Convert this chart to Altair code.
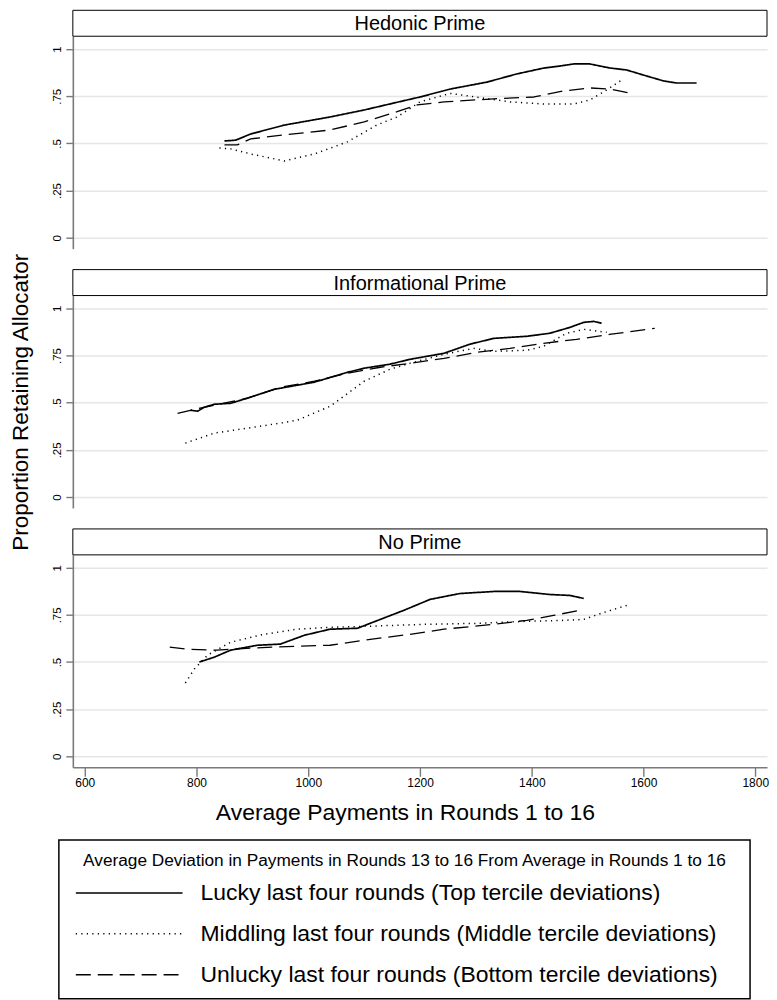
import altair as alt
import pandas as pd

# ---------------- data ----------------
panels = ["Hedonic Prime", "Informational Prime", "No Prime"]
series = [
    "Lucky last four rounds (Top tercile deviations)",
    "Middling last four rounds (Middle tercile deviations)",
    "Unlucky last four rounds (Bottom tercile deviations)",
]
legend_title = "Average Deviation in Payments in Rounds 13 to 16 From Average in Rounds 1 to 16"
x_title = "Average Payments in Rounds 1 to 16"
y_title = "Proportion Retaining Allocator"
x_ticks = [600, 800, 1000, 1200, 1400, 1600, 1800]
y_ticks = [0, 0.25, 0.5, 0.75, 1]

# Hedonic Prime
hed_lucky_x = [850, 870, 897, 957, 1039, 1100, 1159, 1200, 1254, 1320, 1373, 1421, 1450, 1475, 1504, 1539, 1570, 1600, 1636, 1659, 1695]
hed_lucky_y = [.513, .517, .55, .597, .64, .677, .718, .746, .788, .825, .868, .899, .91, .921, .921, .9, .889, .862, .831, .82, .82]
hed_mid_x = [841, 861, 897, 957, 1011, 1070, 1123, 1159, 1200, 1254, 1302, 1361, 1421, 1475, 1504, 1534, 1561]
hed_mid_y = [.476, .471, .444, .407, .444, .508, .598, .64, .72, .765, .745, .72, .709, .709, .73, .783, .836]
hed_unl_x = [850, 873, 897, 957, 1039, 1100, 1159, 1195, 1243, 1325, 1404, 1457, 1504, 1539, 1575]
hed_unl_y = [.492, .492, .524, .545, .571, .614, .668, .704, .72, .735, .746, .778, .794, .788, .767]

# Informational Prime
inf_lucky_x = [789, 802, 814, 832, 861, 891, 939, 1011, 1070, 1100, 1146, 1182, 1243, 1289, 1332, 1391, 1432, 1468, 1493, 1511, 1525]
inf_lucky_y = [.46, .455, .476, .492, .497, .524, .571, .609, .661, .683, .704, .73, .762, .81, .841, .852, .868, .899, .926, .931, .921]
inf_mid_x = [780, 832, 891, 950, 980, 1039, 1100, 1146, 1182, 1243, 1296, 1332, 1391, 1421, 1462, 1493, 1534]
inf_mid_y = [.286, .339, .365, .392, .407, .481, .614, .677, .709, .757, .788, .772, .778, .799, .868, .889, .873]
inf_unl_x = [766, 789, 832, 891, 950, 1011, 1070, 1129, 1182, 1243, 1302, 1361, 1421, 1480, 1539, 1620]
inf_unl_y = [.444, .46, .487, .524, .582, .614, .656, .688, .709, .735, .767, .788, .815, .836, .862, .894]

# No Prime
no_lucky_x = [805, 832, 861, 909, 950, 993, 1039, 1088, 1129, 1171, 1218, 1271, 1332, 1379, 1432, 1468, 1493]
no_lucky_y = [.5, .526, .563, .589, .595, .642, .674, .679, .726, .774, .832, .863, .874, .874, .858, .853, .837]
no_mid_x = [780, 796, 820, 861, 921, 980, 1039, 1100, 1159, 1212, 1302, 1391, 1457, 1493, 1529, 1570]
no_mid_y = [.389, .463, .537, .605, .647, .674, .684, .689, .695, .7, .705, .716, .721, .726, .763, .8]
no_unl_x = [752, 784, 837, 896, 980, 1039, 1100, 1182, 1243, 1332, 1391, 1439, 1486]
no_unl_y = [.579, .568, .563, .574, .584, .589, .616, .647, .674, .7, .721, .747, .774]

groups = [
    (panels[0], series[0], hed_lucky_x, hed_lucky_y),
    (panels[0], series[1], hed_mid_x, hed_mid_y),
    (panels[0], series[2], hed_unl_x, hed_unl_y),
    (panels[1], series[0], inf_lucky_x, inf_lucky_y),
    (panels[1], series[1], inf_mid_x, inf_mid_y),
    (panels[1], series[2], inf_unl_x, inf_unl_y),
    (panels[2], series[0], no_lucky_x, no_lucky_y),
    (panels[2], series[1], no_mid_x, no_mid_y),
    (panels[2], series[2], no_unl_x, no_unl_y),
]
rows = []
for p, s, xs, ys in groups:
    for i, (xv, yv) in enumerate(zip(xs, ys)):
        rows.append({"panel": p, "series": s, "x": xv, "y": yv, "i": i})
df = pd.DataFrame(rows)

# ---------------- styling ----------------
FONT = "Liberation Sans, Arial, Helvetica, sans-serif"
W, H, HDR = 696, 213, 26
AXIS_GRAY = "#7a7a7a"

x_scale = alt.Scale(domain=[578.6, 1821], nice=False, zero=False)
y_scale = alt.Scale(domain=[-0.058, 1.068], nice=False, zero=False)
dash_scale = alt.Scale(domain=series, range=[[1, 0], [1.2, 4.3], [15, 7]])
width_scale = alt.Scale(domain=series, range=[1.7, 1.3, 1.8])

y_label_expr = "datum.value == 0 ? '0' : datum.value == 1 ? '1' : replace(toString(datum.value), '0.', '.')"


def make_panel(k, name):
    d = df[df.panel == name]
    last = k == len(panels) - 1
    if last:
        x_enc = alt.X("x:Q", scale=x_scale,
                      axis=alt.Axis(values=x_ticks, format="d", title=x_title, grid=False,
                                    tickSize=9, labelPadding=1, labelFontSize=12,
                                    titleFontSize=23, titlePadding=13, titleX=333))
    else:
        x_enc = alt.X("x:Q", scale=x_scale, axis=None)
    yax = dict(values=y_ticks, labelExpr=y_label_expr, labelAngle=270, labelAlign="center",
               labelBaseline="bottom", labelPadding=3, labelFontSize=11.5, tickSize=7,
               grid=True, gridColor="#e6e6e6", gridWidth=1.5)
    if k == 1:
        y_enc = alt.Y("y:Q", scale=y_scale,
                      axis=alt.Axis(title=y_title, titleFontSize=22.5, titlePadding=19.5, **yax))
    else:
        y_enc = alt.Y("y:Q", scale=y_scale, title=None, axis=alt.Axis(**yax))

    lines = alt.Chart(d).mark_line(color="black", strokeCap="butt", strokeJoin="round").encode(
        x=x_enc,
        y=y_enc,
        strokeDash=alt.StrokeDash("series:N", scale=dash_scale, legend=None),
        strokeWidth=alt.StrokeWidth("series:N", scale=width_scale, legend=None),
        detail="series:N",
        order="i:Q",
    )
    hdr_df = pd.DataFrame({"label": [name]})
    hdr_box = alt.Chart(hdr_df).mark_rect(fill="white", stroke="black", strokeWidth=1).encode(
        x=alt.value(0), x2=alt.value(W), y=alt.value(-HDR), y2=alt.value(0))
    hdr_text = alt.Chart(hdr_df).mark_text(fontSize=20, align="center", baseline="middle",
                                           color="black").encode(
        x=alt.value(W / 2), y=alt.value(-HDR / 2 + 1), text="label:N")
    return alt.layer(hdr_box, hdr_text, lines).properties(width=W, height=H)


# ---------------- legend panel ----------------
leg_df = pd.DataFrame({"series": series})
title_df = pd.DataFrame({"t": [legend_title]})
BOX_L, BOX_R, BOX_T, BOX_B = -14, 679, 26, 185
row_scale = alt.Scale(type="point", domain=series, range=[79, 161], padding=0)

leg_box = alt.Chart(title_df).mark_rect(fill="white", stroke="black", strokeWidth=1.5).encode(
    x=alt.value(BOX_L), x2=alt.value(BOX_R), y=alt.value(BOX_T), y2=alt.value(BOX_B))
leg_title = alt.Chart(title_df).mark_text(fontSize=17.3, align="center", baseline="middle",
                                          color="black").encode(
    x=alt.value((BOX_L + BOX_R) / 2), y=alt.value(47), text="t:N")
leg_lines = alt.Chart(leg_df).mark_rule(color="black", strokeCap="butt").encode(
    x=alt.value(3), x2=alt.value(110),
    y=alt.Y("series:N", scale=row_scale, axis=None),
    strokeDash=alt.StrokeDash("series:N", scale=dash_scale, legend=None),
    strokeWidth=alt.StrokeWidth("series:N", scale=width_scale, legend=None),
)
leg_labels = alt.Chart(leg_df).mark_text(fontSize=23, align="left", baseline="middle",
                                         color="black").encode(
    x=alt.value(128),
    y=alt.Y("series:N", scale=row_scale, axis=None),
    text="series:N",
)
legend_chart = alt.layer(leg_box, leg_title, leg_lines, leg_labels).properties(width=W, height=150)

chart = alt.vconcat(
    *[make_panel(k, p) for k, p in enumerate(panels)], legend_chart,
    spacing=47, bounds="flush",
).properties(
    padding={"left": 1, "top": 0, "right": 0, "bottom": 0}
).configure(
    font=FONT
).configure_view(
    strokeWidth=0
).configure_axis(
    domainColor=AXIS_GRAY, domainWidth=1.6, tickColor=AXIS_GRAY, tickWidth=1.4,
    labelColor="black", titleColor="black", titleFontWeight="normal",
    labelFont=FONT, titleFont=FONT,
)

chart.save("out.html", embed_options={"renderer": "svg", "actions": False})
